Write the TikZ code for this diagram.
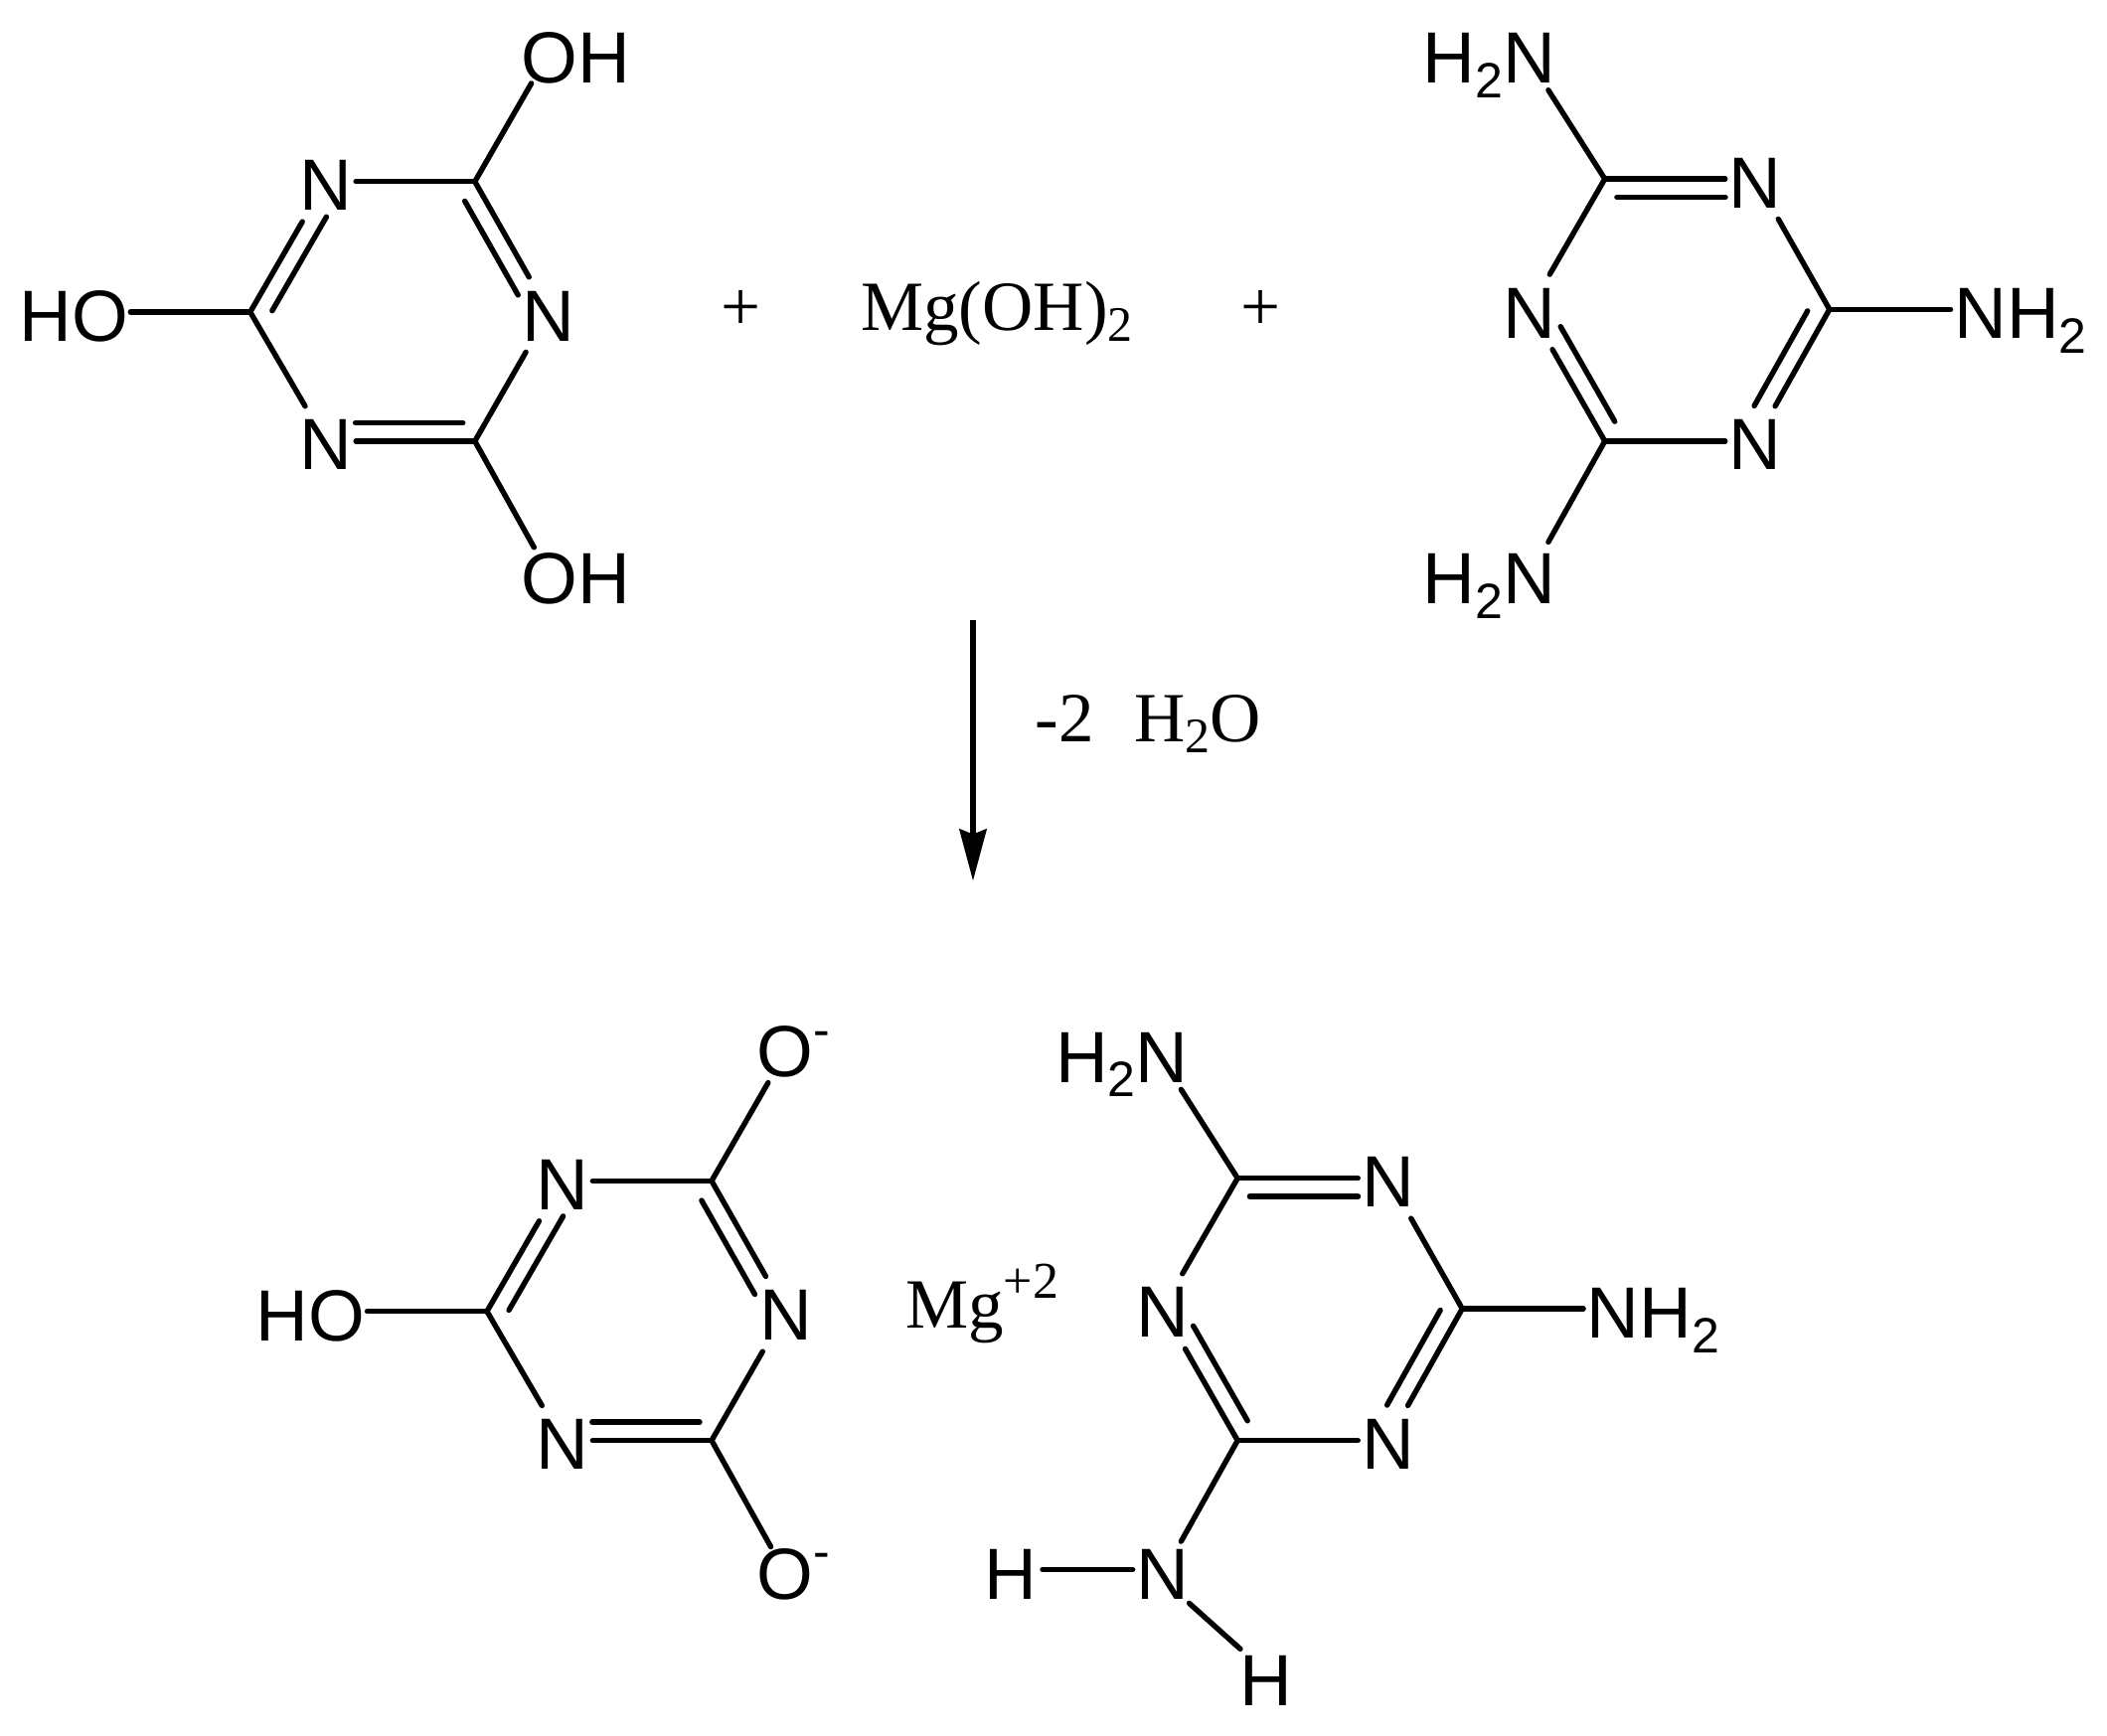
\documentclass[tikz,border=0pt]{standalone}
\usepackage{fontspec}
\setmainfont{Liberation Sans}
\newfontfamily\serifchem{Liberation Serif}
\usetikzlibrary{calc,arrows.meta}
\newcommand{\subt}[1]{\raisebox{-.2em}{\fontsize{50}{52}\selectfont #1}}
\newcommand{\subs}[1]{\raisebox{-.16em}{\fontsize{50}{52}\selectfont #1}}
\newcommand{\dblbond}[3][]{%
  \draw[bond,#1] (#2) -- (#3);
  \draw[bond] ($(#2)!.08!(#3)!18.5pt!-90:(#3)$) -- ($(#2)!.80!(#3)!18.5pt!-90:(#3)$);}
\tikzset{
  bond/.style={line width=5.4pt,line cap=round,black},
  belowexit/.style={shorten <=6pt},
  belowentry/.style={shorten >=6pt},
  atom/.style={font=\fontsize{73}{77}\selectfont,inner sep=5pt,text height=51pt,text depth=0pt,black},
  ringn/.style={font=\fontsize{73}{77}\selectfont,inner xsep=4pt,inner ysep=6pt,text height=58pt,text depth=0pt,black},
  chemtext/.style={font=\serifchem\fontsize{71}{75}\selectfont,inner sep=0pt,text height=47pt,text depth=0pt,black},
}
\begin{document}
\begin{tikzpicture}[x=1.3535pt,y=-1.3535pt]
\useasboundingbox (0,0) rectangle (1566.3,1290);
% ---- ring type A (cyanuric acid)
\foreach \pfx/\dx/\dy in {a/0/0,c/176/743}{
\begin{scope}[shift={(\dx,\dy)},name prefix=\pfx-]
  \coordinate (c1) at (353,135);
  \coordinate (c2) at (353,328);
  \coordinate (c3) at (186,232);
  \node[ringn] (n1) at (242,135) {N};
  \node[ringn] (n2) at (408,232) {N};
  \node[ringn] (n3) at (242,328) {N};
  \draw[bond] (n1) -- (c1);
  \dblbond{c1}{n2}
  \draw[bond,belowexit] (n2) -- (c2);
  \dblbond{c2}{n3}
  \draw[bond] (n3) -- (c3);
  \dblbond[belowentry]{c3}{n1}
  \node[atom] (ho) at (55,235) {HO};
  \coordinate (hob) at (97,232);
  \draw[bond] (hob) -- (c3);
  \coordinate (o1b) at (395,62);
  \coordinate (o2b) at (397,407);
  \draw[bond] (c1) -- (o1b);
  \draw[bond] (c2) -- (o2b);
\end{scope}}
\node[atom] (aoh1) at (428,43) {OH};
\node[atom] (aoh2) at (428,430) {OH};
% ---- ring type B (melamine)
\foreach \pfx/\dx/\dy in {b/0/0,d/-273/743}{
\begin{scope}[shift={(\dx,\dy)},name prefix=\pfx-]
  \coordinate (c1) at (1193,133);
  \coordinate (c2) at (1360,230);
  \coordinate (c3) at (1193,328);
  \node[ringn] (n1) at (1305,133) {N};
  \node[ringn] (n2) at (1305,328) {N};
  \node[ringn] (n3) at (1137,230) {N};
  \dblbond{c1}{n1}
  \draw[bond,belowexit] (n1) -- (c2);
  \dblbond{c2}{n2}
  \draw[bond] (n2) -- (c3);
  \dblbond[belowentry]{c3}{n3}
  \draw[bond] (n3) -- (c1);
  \node[atom] (h2n) at (1107,43) {H\subt{2}N};
  \node[atom] (nh2) at (1502,233) {NH\subt{2}};
  \coordinate (h2nb) at (1151,67);
  \coordinate (nh2b) at (1450,230);
  \coordinate (n4b) at (1151,403);
  \draw[bond] (c1) -- (h2nb);
  \draw[bond] (c2) -- (nh2b);
  \draw[bond] (c3) -- (n4b);
\end{scope}}
\node[atom] (bh2n) at (1107,430) {H\subt{2}N};
% ---- lower extras
\node[atom] (co1) at (590,782) {O\raisebox{.42em}{\fontsize{50}{52}\selectfont -}};
\node[atom] (co2) at (590,1170) {O\raisebox{.42em}{\fontsize{50}{52}\selectfont -}};
\node[atom] (dn) at (864,1170) {N};
\node[atom] (dh1) at (751,1170) {H};
\node[atom] (dh2) at (941,1249) {H};
\coordinate (dh1b) at (775,1167);
\coordinate (dn1b) at (842,1167);
\coordinate (dn2b) at (884,1192);
\coordinate (dh2b) at (922,1226);
\draw[bond] (dh1b) -- (dn1b);
\draw[bond] (dn2b) -- (dh2b);
% ---- plain text
\node[chemtext] (p1) at (551,228) {+};
\node[chemtext] (p2) at (937,228) {+};
\node[chemtext] (mgoh) at (741,228) {Mg(OH)\subs{2}};
\node[chemtext] (loss) at (853.4,534) {-2\hspace{.57em}H\subs{2}O};
\node[chemtext] (mg) at (730,970) {Mg\raisebox{.42em}{\fontsize{52}{54}\selectfont +2}};
% ---- reaction arrow
\coordinate (arrs) at (723.3,461);
\coordinate (arre) at (723.3,655);
\draw[line width=6pt,-{Stealth[length=52pt,width=27pt,inset=5pt]}] (arrs) -- (arre);
\end{tikzpicture}
\end{document}
